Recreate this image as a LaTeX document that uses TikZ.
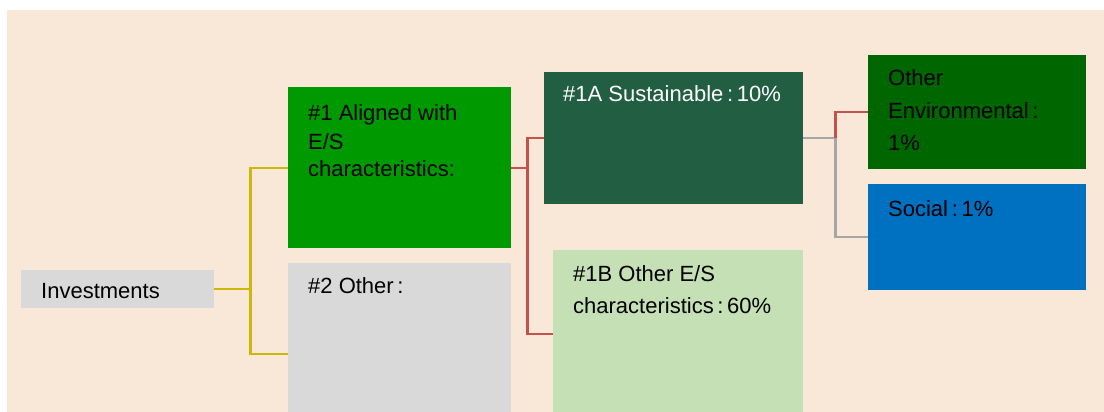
\documentclass[tikz,border=0pt]{standalone}
\usepackage{fontspec}
\setmainfont{Liberation Sans}
\definecolor{peach}{RGB}{249,232,216}
\definecolor{grayb}{RGB}{217,217,217}
\definecolor{greenA}{RGB}{0,153,0}
\definecolor{green1A}{RGB}{34,94,66}
\definecolor{lightg}{RGB}{197,224,180}
\definecolor{envg}{RGB}{0,102,0}
\definecolor{socb}{RGB}{0,112,192}
\definecolor{yel}{RGB}{204,184,10}
\definecolor{redl}{RGB}{194,82,78}
\definecolor{grayl}{RGB}{166,166,166}
\tikzset{
  box/.style={draw=none, inner sep=0, anchor=north west},
  lbl/.style={anchor=base west, inner sep=0, font=\fontsize{22}{26}\selectfont},
  conn/.style={line width=2.2pt},
}
\begin{document}
\begin{tikzpicture}[x=1pt,y=-1pt]
\useasboundingbox (0,0) rectangle (1104,412);
\fill[peach] (7,10) rectangle (1104,412);
% boxes
\node[box, fill=grayb, minimum width=193pt, minimum height=38pt] (inv) at (21,270) {};
\node[box, fill=greenA, minimum width=223pt, minimum height=161pt] (n1) at (288,87) {};
\node[box, fill=grayb, minimum width=223pt, minimum height=182pt] (n2) at (288,263) {};
\node[box, fill=green1A, minimum width=259pt, minimum height=132pt] (n1a) at (544,72) {};
\node[box, fill=lightg, minimum width=250pt, minimum height=168pt] (n1b) at (553,250) {};
\node[box, fill=envg, minimum width=218pt, minimum height=114pt] (oe) at (868,55) {};
\node[box, fill=socb, minimum width=218pt, minimum height=106pt] (soc) at (868,184) {};
% texts
\node[lbl] (tinv) at (41,298) {Investments};
\node[lbl] (t1a) at (308,120.7) {\#1 Aligned with};
\node[lbl] (t1b) at (308,149) {E/S};
\node[lbl] (t1c) at (308,176.7) {characteristics:};
\node[lbl] (t2) at (308,293) {\#2 Other\,:};
\node[lbl, text=white] (t1A) at (563,102) {\#1A Sustainable\,:\,10\%};
\node[lbl] (t1Ba) at (573,281.7) {\#1B Other E/S};
\node[lbl] (t1Bb) at (573,313.3) {characteristics\,:\,60\%};
\node[lbl] (toe1) at (888,86) {Other};
\node[lbl] (toe2) at (888,118) {Environmental\,:};
\node[lbl] (toe3) at (888,150) {1\%};
\node[lbl] (tsoc) at (888,216) {Social\,:\,1\%};
% connectors
\draw[conn, yel] (inv.east) -- ++(36,0) coordinate (j1);
\draw[conn, yel] (j1) |- (n1.west);
\draw[conn, yel] (j1) |- (n2.west);
\draw[conn, redl] (n1.east) -- ++(16,0) coordinate (j2);
\draw[conn, redl] (j2) |- (n1a.west);
\draw[conn, redl] (j2) |- (n1b.west);
\draw[conn, grayl] (n1a.east) -- ++(32,0) coordinate (j3);
\draw[conn, grayl] (j3) |- (soc.west);
\draw[conn, redl] (j3) |- (oe.west);
\end{tikzpicture}
\end{document}
